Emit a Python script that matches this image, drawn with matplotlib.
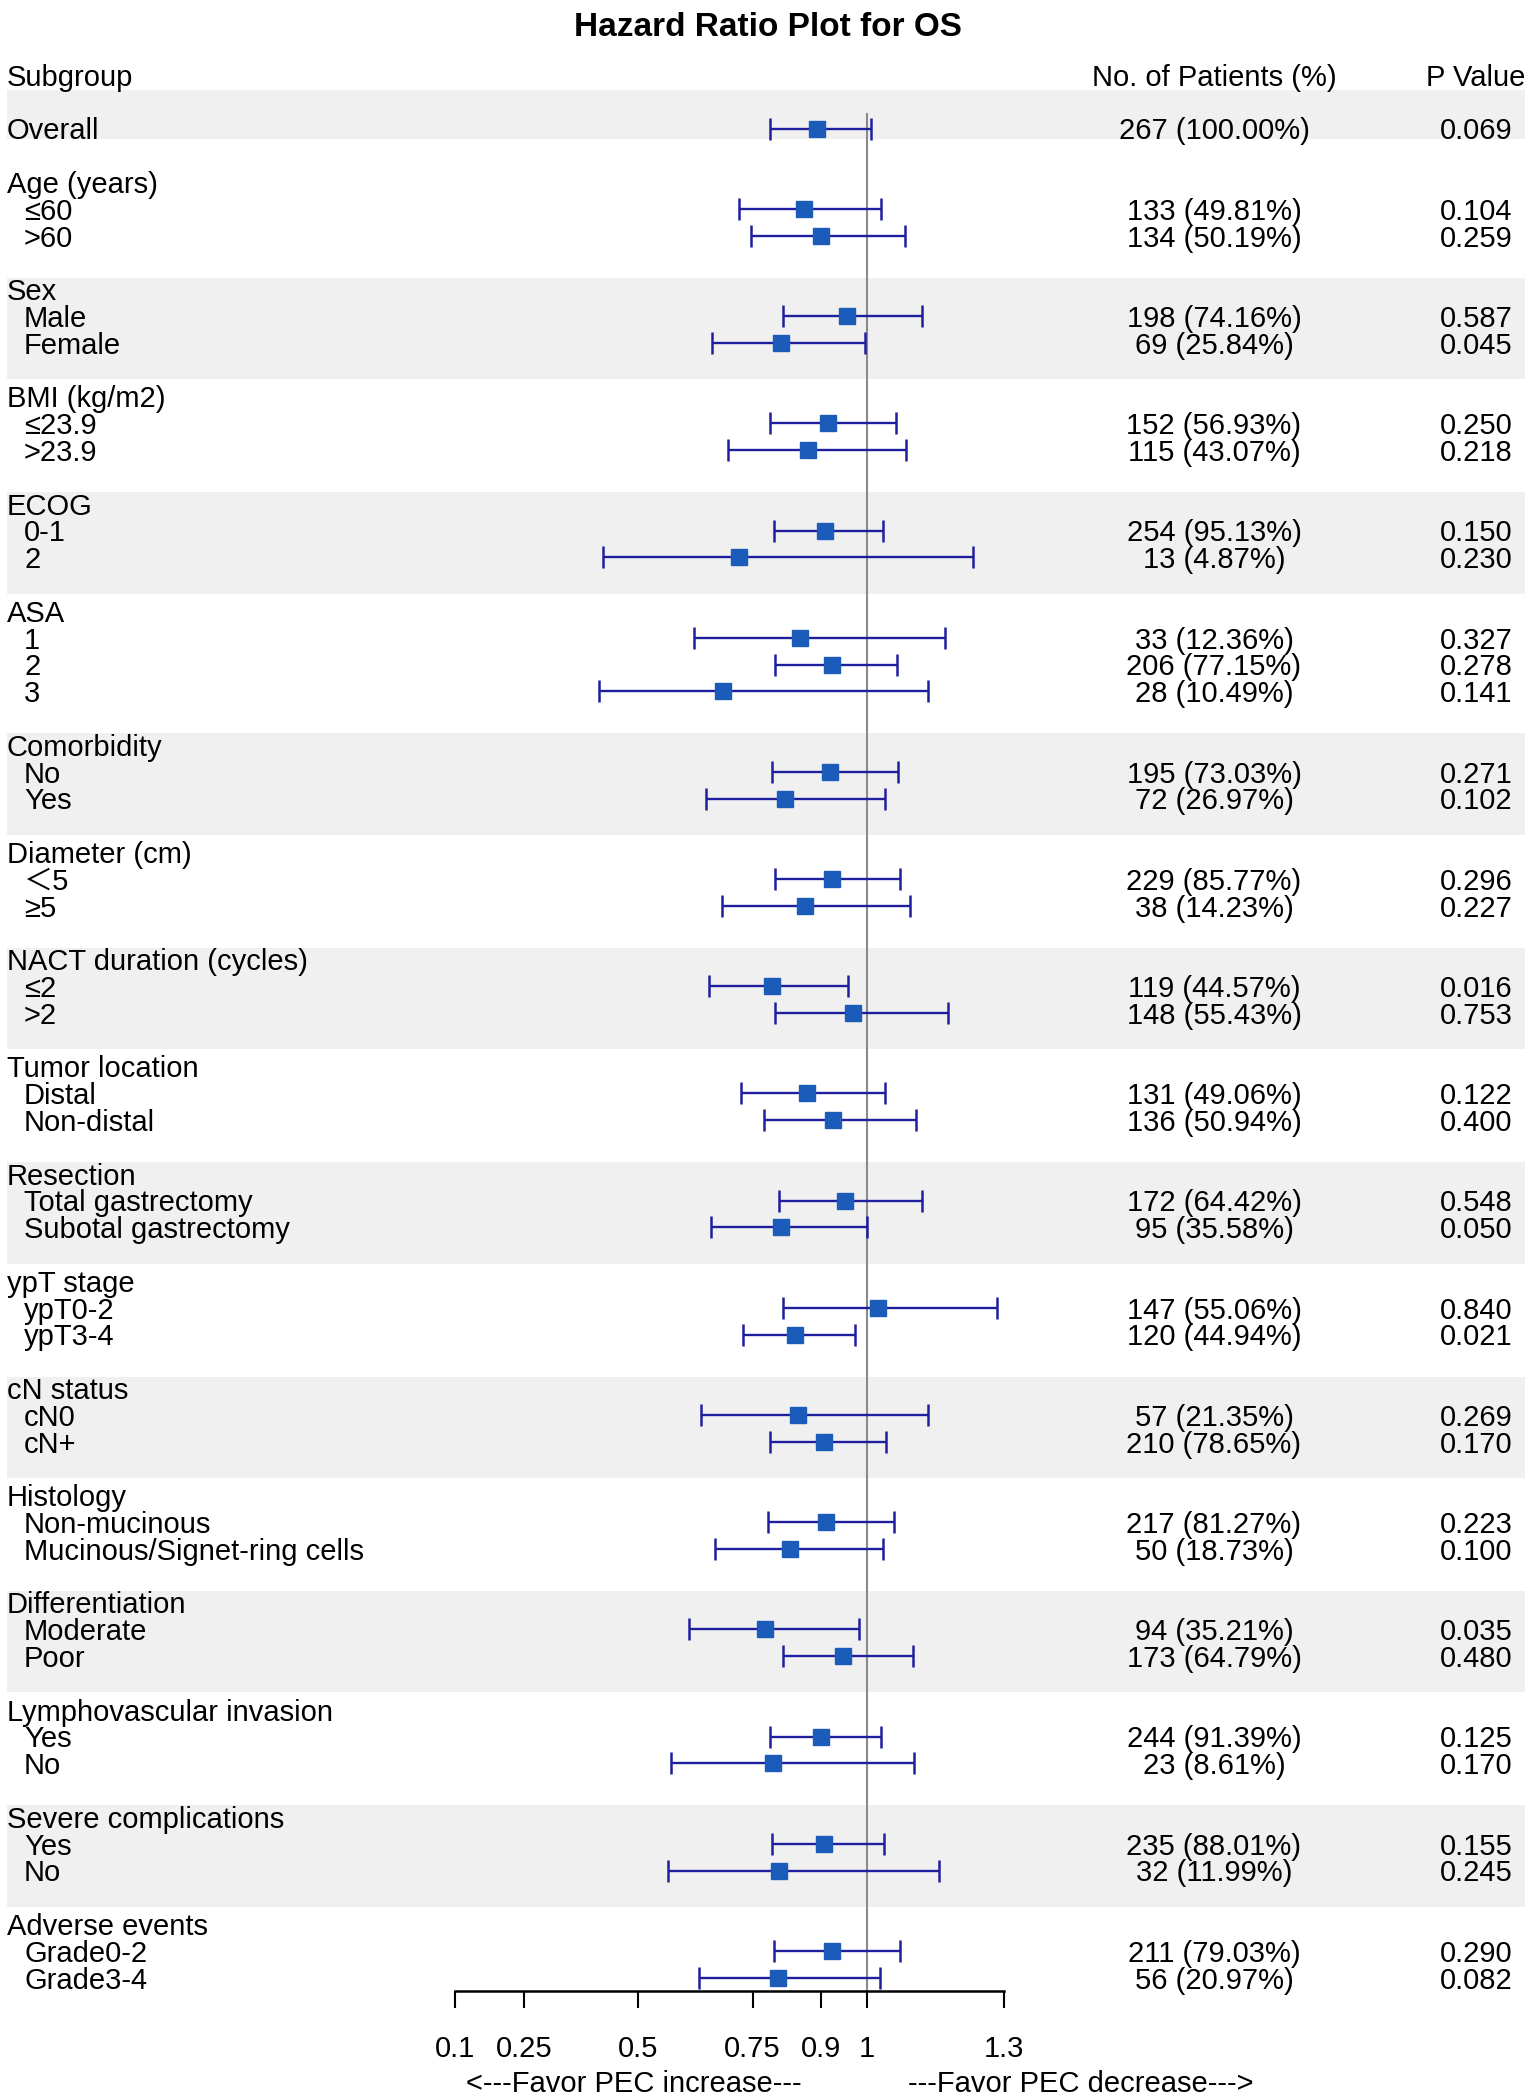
import matplotlib
matplotlib.use("Agg")
import matplotlib.pyplot as plt
import numpy as np

plt.rcParams['font.family'] = ['Liberation Sans', 'Noto Sans CJK SC', 'DejaVu Sans']

# ---------------- data ----------------
title = "Hazard Ratio Plot for OS"
col_headers = ["Subgroup", "No. of Patients (%)", "P Value"]

overall_label = "Overall"
overall_hr, overall_lo, overall_hi = 0.890, 0.787, 1.009
overall_n = "267 (100.00%)"
overall_p = "0.069"

group_names = ["Age (years)", "Sex", "BMI (kg/m2)", "ECOG", "ASA", "Comorbidity",
               "Diameter (cm)", "NACT duration (cycles)", "Tumor location", "Resection",
               "ypT stage", "cN status", "Histology", "Differentiation",
               "Lymphovascular invasion", "Severe complications", "Adverse events"]

group_levels = [["≤60", ">60"], ["Male", "Female"], ["≤23.9", ">23.9"], ["0-1", "2"],
                ["1", "2", "3"], ["No", "Yes"], ["＜5", "≥5"], ["≤2", ">2"],
                ["Distal", "Non-distal"], ["Total gastrectomy", "Subotal gastrectomy"],
                ["ypT0-2", "ypT3-4"], ["cN0", "cN+"],
                ["Non-mucinous", "Mucinous/Signet-ring cells"], ["Moderate", "Poor"],
                ["Yes", "No"], ["Yes", "No"], ["Grade0-2", "Grade3-4"]]

hr = [[0.862, 0.899], [0.957, 0.811], [0.915, 0.870], [0.908, 0.720],
      [0.854, 0.923, 0.685], [0.919, 0.820], [0.924, 0.865], [0.792, 0.969],
      [0.868, 0.926], [0.951, 0.812], [1.023, 0.843], [0.849, 0.907],
      [0.910, 0.832], [0.776, 0.948], [0.900, 0.794], [0.907, 0.808], [0.923, 0.806]]

ci_low = [[0.720, 0.746], [0.816, 0.662], [0.788, 0.696], [0.796, 0.422],
          [0.622, 0.799, 0.414], [0.792, 0.648], [0.798, 0.682], [0.654, 0.798],
          [0.724, 0.775], [0.808, 0.659], [0.817, 0.729], [0.638, 0.789],
          [0.783, 0.668], [0.612, 0.816], [0.788, 0.572], [0.793, 0.565], [0.796, 0.632]]

ci_high = [[1.031, 1.082], [1.121, 0.995], [1.063, 1.085], [1.034, 1.231],
           [1.171, 1.066, 1.134], [1.068, 1.039], [1.072, 1.094], [0.958, 1.177],
           [1.039, 1.107], [1.120, 1.000], [1.283, 0.974], [1.134, 1.042],
           [1.058, 1.036], [0.982, 1.101], [1.030, 1.103], [1.037, 1.157], [1.071, 1.028]]

n_patients = [["133 (49.81%)", "134 (50.19%)"], ["198 (74.16%)", "69 (25.84%)"],
              ["152 (56.93%)", "115 (43.07%)"], ["254 (95.13%)", "13 (4.87%)"],
              ["33 (12.36%)", "206 (77.15%)", "28 (10.49%)"],
              ["195 (73.03%)", "72 (26.97%)"], ["229 (85.77%)", "38 (14.23%)"],
              ["119 (44.57%)", "148 (55.43%)"], ["131 (49.06%)", "136 (50.94%)"],
              ["172 (64.42%)", "95 (35.58%)"], ["147 (55.06%)", "120 (44.94%)"],
              ["57 (21.35%)", "210 (78.65%)"], ["217 (81.27%)", "50 (18.73%)"],
              ["94 (35.21%)", "173 (64.79%)"], ["244 (91.39%)", "23 (8.61%)"],
              ["235 (88.01%)", "32 (11.99%)"], ["211 (79.03%)", "56 (20.97%)"]]

p_values = [["0.104", "0.259"], ["0.587", "0.045"], ["0.250", "0.218"], ["0.150", "0.230"],
            ["0.327", "0.278", "0.141"], ["0.271", "0.102"], ["0.296", "0.227"],
            ["0.016", "0.753"], ["0.122", "0.400"], ["0.548", "0.050"], ["0.840", "0.021"],
            ["0.269", "0.170"], ["0.223", "0.100"], ["0.035", "0.480"], ["0.125", "0.170"],
            ["0.155", "0.245"], ["0.290", "0.082"]]

x_ticks = [0.1, 0.25, 0.5, 0.75, 0.9, 1, 1.3]
x_tick_labels = ["0.1", "0.25", "0.5", "0.75", "0.9", "1", "1.3"]
favor_left = "<---Favor PEC increase---"
favor_right = "---Favor PEC decrease--->"

# ---------------- layout ----------------
W, H = 1535, 2097
ROW_PX = 26.8
ROW0_PX = 75.0
def px2row(py):
    return (py - ROW0_PX) / ROW_PX

FS = 21
BAND = '#f0f0f0'
LINE_C = '#1f1f9e'
MARK_C = '#1b5cbb'

fig = plt.figure(figsize=(W / 100, H / 100), dpi=100)

# background / text axes: x in pixels, y in rows
bg = fig.add_axes([0, 0, 1, 1])
bg.set_xlim(0, W)
bg.set_ylim(px2row(H), px2row(0))
bg.axis('off')

# forest axes
x_lo_px = 455.2
x_hi_px = 1004.3
axis_px = 1991
fa = fig.add_axes([x_lo_px / W, (H - axis_px) / H, (x_hi_px - x_lo_px) / W, axis_px / H])
fa.set_xlim(0.1, 1.3)
fa.set_ylim(px2row(axis_px), px2row(0))
fa.patch.set_alpha(0)
for s in ['top', 'left', 'right']:
    fa.spines[s].set_visible(False)
fa.spines['bottom'].set_linewidth(1.8)
fa.set_yticks([])
fa.set_xticks(x_ticks)
fa.set_xticklabels(x_tick_labels, fontsize=FS)
fa.tick_params(axis='x', direction='out', length=12.5, width=1.5, pad=19)

# rows
header_row = 0
overall_row = 2
rows_hdr = []
rows_items = []
r = 4
for levels in group_levels:
    rows_hdr.append(r)
    rows_items.append([r + 1 + i for i in range(len(levels))])
    r += len(levels) + 2

# bands
bg.fill_between([7, 1525], overall_row - 1.44, overall_row + 0.39, color=BAND, lw=0, zorder=0)
for gi in range(len(group_names)):
    if gi % 2 == 1:
        bg.fill_between([7, 1525], rows_hdr[gi] - 0.43, rows_items[gi][-1] + 1.35,
                        color=BAND, lw=0, zorder=0)

TXT_OFF = 0.40
COL_N = 1214
COL_P = 1476
X_HDR = 7
X_ITEM = 24

# title and headers
fig.text(0.5, 1 - 36 / H, title, ha='center', va='baseline', fontsize=24, fontweight='bold')
bg.text(X_HDR, header_row + TXT_OFF, col_headers[0], fontsize=FS, va='baseline', ha='left')
bg.text(COL_N, header_row + TXT_OFF, col_headers[1], fontsize=FS, va='baseline', ha='center')
bg.text(COL_P, header_row + TXT_OFF, col_headers[2], fontsize=FS, va='baseline', ha='center')

# overall
bg.text(X_HDR, overall_row + TXT_OFF, overall_label, fontsize=FS, va='baseline')
bg.text(COL_N, overall_row + TXT_OFF, overall_n, fontsize=FS, va='baseline', ha='center')
bg.text(COL_P, overall_row + TXT_OFF, overall_p, fontsize=FS, va='baseline', ha='center')

all_rows = [overall_row]
all_hr = [overall_hr]
all_lo = [overall_lo]
all_hi = [overall_hi]
for gi, name in enumerate(group_names):
    bg.text(X_HDR, rows_hdr[gi] + TXT_OFF, name, fontsize=FS, va='baseline')
    for li, lab in enumerate(group_levels[gi]):
        rr = rows_items[gi][li]
        bg.text(X_ITEM, rr + TXT_OFF, lab, fontsize=FS, va='baseline')
        bg.text(COL_N, rr + TXT_OFF, n_patients[gi][li], fontsize=FS, va='baseline', ha='center')
        bg.text(COL_P, rr + TXT_OFF, p_values[gi][li], fontsize=FS, va='baseline', ha='center')
        all_rows.append(rr)
        all_hr.append(hr[gi][li])
        all_lo.append(ci_low[gi][li])
        all_hi.append(ci_high[gi][li])

all_rows = np.array(all_rows, dtype=float)
all_hr = np.array(all_hr)
all_lo = np.array(all_lo)
all_hi = np.array(all_hi)

# reference line
fa.plot([1, 1], [px2row(114), px2row(axis_px)], color='#8a8a8a', lw=1.5, zorder=1, clip_on=False)

# CIs
fa.hlines(all_rows, all_lo, all_hi, color=LINE_C, lw=1.7, zorder=2, clip_on=False)
cap = 0.41
fa.vlines(all_lo, all_rows - cap, all_rows + cap, color=LINE_C, lw=1.8, zorder=2, clip_on=False)
fa.vlines(all_hi, all_rows - cap, all_rows + cap, color=LINE_C, lw=1.8, zorder=2, clip_on=False)
fa.plot(all_hr, all_rows, 's', color=MARK_C, markersize=11, markeredgecolor=MARK_C,
        zorder=3, clip_on=False)

# favor labels
bg.text(634, px2row(2092), favor_left, fontsize=FS, ha='center', va='baseline')
bg.text(1081, px2row(2092), favor_right, fontsize=FS, ha='center', va='baseline')

fig.savefig("out.png", dpi=100)
